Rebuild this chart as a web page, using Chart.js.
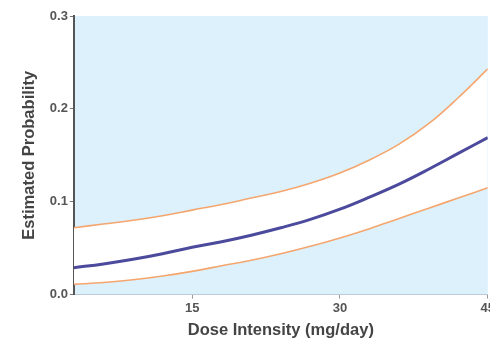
<!DOCTYPE html>
<html>
<head>
<meta charset="utf-8">
<script src="https://cdn.jsdelivr.net/npm/chart.js@4"></script>
<style>
html,body{margin:0;padding:0;background:#fff;overflow:hidden;}
#wrap{position:relative;width:497px;height:340px;}
</style>
</head>
<body>
<div id="wrap"><canvas id="c"></canvas></div>
<script>
const doseValues = [3, 6, 9, 12, 15, 18, 21, 24, 27, 30, 33, 36, 39, 42, 45];
const estimate   = [0.029, 0.033, 0.038, 0.044, 0.051, 0.057, 0.064, 0.072, 0.081, 0.092, 0.105, 0.119, 0.135, 0.152, 0.169];
const upperCI    = [0.072, 0.076, 0.080, 0.085, 0.091, 0.097, 0.104, 0.111, 0.120, 0.131, 0.145, 0.162, 0.184, 0.212, 0.243];
const lowerCI    = [0.011, 0.013, 0.016, 0.020, 0.025, 0.031, 0.037, 0.044, 0.052, 0.061, 0.071, 0.082, 0.093, 0.104, 0.115];
const xTicks = [15, 30, 45];
const yTicks = [0, 0.1, 0.2, 0.3];

const toPts = arr => doseValues.map((x, i) => ({x: x, y: arr[i]}));

const bgPlugin = {
  id: 'plotBg',
  beforeDraw(chart) {
    const a = chart.chartArea, ctx = chart.ctx;
    ctx.save();
    ctx.fillStyle = '#dcf1fb';
    ctx.fillRect(a.left, a.top, a.right - a.left, a.bottom - a.top);
    ctx.restore();
  }
};

const FONT = 'Liberation Sans, Arial, sans-serif';

new Chart(document.getElementById('c'), {
  type: 'line',
  data: {
    datasets: [
      {label: 'Upper', data: toPts(upperCI), borderColor: '#f5a66e', borderWidth: 1.6, order: 3, tension: 0.4,
       backgroundColor: '#ffffff', fill: {target: 1, above: '#ffffff', below: '#ffffff'}, pointRadius: 0},
      {label: 'Lower', data: toPts(lowerCI), borderColor: '#f5a66e', borderWidth: 1.6, order: 2, tension: 0.4,
       fill: false, pointRadius: 0},
      {label: 'Estimate', data: toPts(estimate), borderColor: '#4b4a9c', borderWidth: 3, order: 1, tension: 0.4,
       fill: false, pointRadius: 0}
    ]
  },
  options: {
    responsive: true,
    maintainAspectRatio: false,
    animation: false,
    layout: {padding: {top: 16, left: 20, right: 0, bottom: 0}},
    plugins: {legend: {display: false}, tooltip: {enabled: false}, filler: {drawTime: 'beforeDatasetsDraw'}},
    scales: {
      x: {
        type: 'linear', min: 3, max: 45,
        afterBuildTicks: s => { s.ticks = xTicks.map(v => ({value: v})); },
        grid: {display: true, drawOnChartArea: false, drawTicks: true, tickLength: 4, color: '#999'},
        border: {display: true, color: '#b9ccd6', width: 1},
        ticks: {color: '#555', font: {family: FONT, size: 13, weight: 'bold'}, padding: 2, maxRotation: 0},
        title: {display: true, text: 'Dose Intensity (mg/day)', color: '#444',
                font: {family: FONT, size: 16.5, weight: 'bold'}, padding: {top: 2, bottom: 0}}
      },
      y: {
        min: 0, max: 0.3,
        afterBuildTicks: s => { s.ticks = yTicks.map(v => ({value: v})); },
        grid: {display: true, drawOnChartArea: false, drawTicks: true, tickLength: 4, color: '#777'},
        border: {display: true, color: '#555', width: 2},
        ticks: {color: '#555', font: {family: FONT, size: 13, weight: 'bold'}, padding: 2,
                callback: v => Number(v).toFixed(1)},
        title: {display: true, text: 'Estimated Probability', color: '#444',
                font: {family: FONT, size: 16.5, weight: 'bold'}, padding: {top: 0, bottom: 8}}
      }
    }
  },
  plugins: [bgPlugin]
});
</script>
</body>
</html>
